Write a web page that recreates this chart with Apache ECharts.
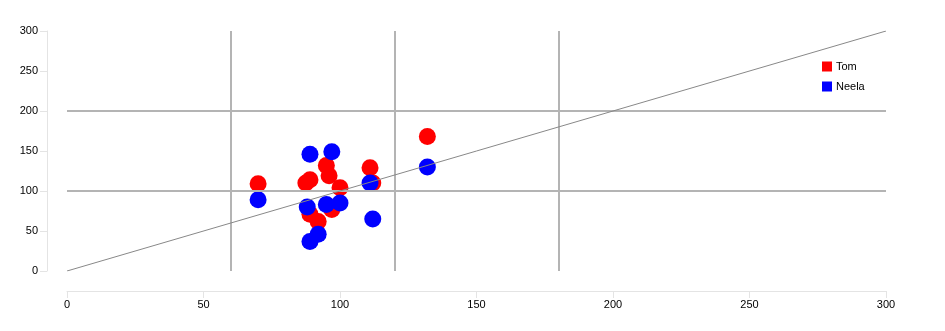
<!DOCTYPE html>
<html><head><meta charset="utf-8">
<script src="https://cdn.jsdelivr.net/npm/echarts@6/dist/echarts.min.js"></script>
<style>html,body{margin:0;padding:0;background:#fff}#c{width:945px;height:331px}</style>
</head><body><div id="c"></div>
<script>
const tomData = [[70,109],[87.5,110],[89,114],[95,132],[96,119],[100,104],[111,129],[112,110],[132,168],[97,77],[89,71],[92,62]];
const neelaData = [[70,89],[89,146],[97,149],[111,110],[132,130],[88,80],[95,83],[100,85],[112,65],[92,46],[89,37]];
const diagonal = [[0,0],[300,300]];
const vLines = [60,120,180];
const hLines = [100,200];
const seriesNames = ['Tom','Neela'];
const seriesColors = ['#ff0000','#0000ff'];

const chart = echarts.init(document.getElementById('c'));
const axisCommon = {
  type:'value', min:0, max:300, interval:50, offset:20,
  axisLine:{show:true, onZero:false, lineStyle:{color:'#e4e4e4', width:1}},
  axisTick:{show:true, length:7, lineStyle:{color:'#e4e4e4'}},
  splitLine:{show:false},
  axisLabel:{color:'#000', fontSize:11, fontFamily:'Liberation Sans, Arial, sans-serif'}
};
chart.setOption({
  animation:false,
  grid:{left:67, right:59, top:31, bottom:60, containLabel:false},
  xAxis:Object.assign({}, axisCommon, {axisLabel:Object.assign({}, axisCommon.axisLabel, {margin:8})}),
  yAxis:Object.assign({}, axisCommon, {axisLabel:Object.assign({}, axisCommon.axisLabel, {margin:9})}),
  legend:{
    data:seriesNames, orient:'vertical', left:822, top:61, padding:0,
    itemWidth:10, itemHeight:10, itemGap:9, icon:'rect',
    textStyle:{color:'#000', fontSize:11, fontFamily:'Liberation Sans, Arial, sans-serif', padding:[0,0,0,-1]}
  },
  series:[
    {type:'line', name:'grid', data:[], symbol:'none', silent:true, z:1,
     markLine:{silent:true, symbol:'none', label:{show:false},
       lineStyle:{color:'#b4b4b4', width:2, type:'solid'},
       data: vLines.map(v=>({xAxis:v})).concat(hLines.map(v=>({yAxis:v})))}
    },
    {type:'scatter', name:seriesNames[0], data:tomData, symbolSize:17, z:3, itemStyle:{color:seriesColors[0], opacity:1}},
    {type:'scatter', name:seriesNames[1], data:neelaData, symbolSize:17, z:4, itemStyle:{color:seriesColors[1], opacity:1}},
    {type:'line', name:'diag', data:diagonal, symbol:'none', silent:true, z:6,
     lineStyle:{color:'#888', width:1}}
  ]
});
</script></body></html>
